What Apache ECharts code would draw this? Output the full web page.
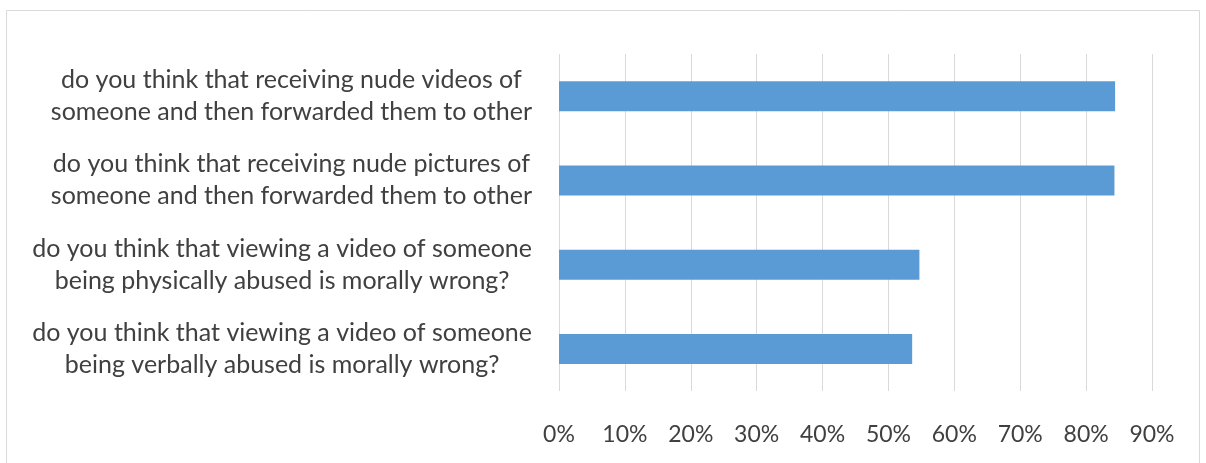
<!DOCTYPE html>
<html>
<head>
<meta charset="utf-8">
<script src="https://cdn.jsdelivr.net/npm/echarts@6/dist/echarts.min.js"></script>
<style>
  html, body { margin: 0; padding: 0; background: #fff; }
  #chart { width: 1206px; height: 463px; }
</style>
</head>
<body>
<div id="chart"></div>
<script>
// questions, top to bottom
const categories = [
  "do you think that receiving nude videos of\nsomeone and then forwarded them to other",
  "do you think that receiving nude pictures of\nsomeone and then forwarded them to other",
  "do you think that viewing a video of someone\nbeing physically abused is morally wrong?",
  "do you think that viewing a video of someone\nbeing verbally abused is morally wrong?"
];
const values = [84.4, 84.3, 54.7, 53.6];
const tickMax = 90;
const tickStep = 10;

const chart = echarts.init(document.getElementById("chart"));

const option = {
  animation: false,
  textStyle: { fontFamily: "Lato, 'Open Sans', sans-serif" },
  graphic: [
    {
      type: "rect",
      shape: { x: 6.5, y: 10.5, width: 1193, height: 460 },
      style: { fill: "none", stroke: "#d9d9d9", lineWidth: 1 },
      silent: true
    }
  ],
  grid: { left: 559, right: 54, top: 54, bottom: 72, containLabel: false },
  xAxis: {
    type: "value",
    min: 0,
    max: tickMax,
    interval: tickStep,
    axisLine: { show: false },
    axisTick: { show: false },
    splitLine: { show: true, lineStyle: { color: "#d9d9d9", width: 1 } },
    axisLabel: {
      formatter: "{value}%",
      color: "#404040",
      fontSize: 23,
      margin: 32
    }
  },
  yAxis: {
    type: "category",
    inverse: true,
    data: categories,
    axisLine: { show: false },
    axisTick: { show: false },
    axisLabel: {
      margin: 27,
      formatter: (v) => v.split("\n").map(s => "{c|" + s + "}").join("\n"),
      rich: {
        c: {
          align: "center",
          color: "#404040",
          fontSize: 25,
          lineHeight: 32,
          fontFamily: "Lato, 'Open Sans', sans-serif"
        }
      }
    }
  },
  series: [
    {
      type: "bar",
      data: values,
      barWidth: 30,
      itemStyle: { color: "#5b9bd5" }
    }
  ]
};

chart.setOption(option);
</script>
</body>
</html>
